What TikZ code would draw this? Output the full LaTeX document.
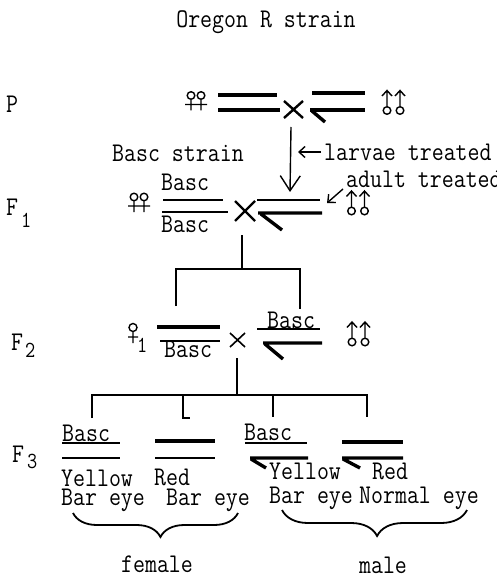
\documentclass[tikz,border=0pt]{standalone}
\usepackage{graphicx}
\usetikzlibrary{arrows.meta,decorations.pathreplacing}
\newcommand{\tw}[1]{\scalebox{0.86}[1]{#1}}
\begin{document}
\begin{tikzpicture}[x=1pt,y=-1pt,
  lbl/.style={font=\fontsize{27}{29}\selectfont\ttfamily, inner sep=0pt, anchor=base west},
  sublbl/.style={font=\fontsize{23}{25}\selectfont\ttfamily, inner sep=0pt, anchor=base west},
  chrthick/.style={line width=3.4pt},
  chrmed/.style={line width=2.2pt},
  chrthin/.style={line width=1.3pt},
  link/.style={line width=1.4pt},
  crosssty/.style={line width=2.4pt},
  sym/.style={line width=1.4pt},
  fempair/.pic={
    \draw[sym] (-5,0) circle (3.8) (5,0) circle (3.8)
      (-5,3.8) -- (-5,15) (5,3.8) -- (5,15) (-11,9) -- (11,9);},
  femone/.pic={
    \draw[sym] (0,0) circle (4) (0,4) -- (0,15.5) (-5,9.5) -- (5,9.5);},
  malepair/.pic={
    \draw[sym] (-6.5,0) circle (3.8) (6.5,0) circle (3.8)
      (-6.5,-3.8) -- (-6.5,-20) (6.5,-3.8) -- (6.5,-20)
      (-11.5,-14.5) -- (-6.5,-20) -- (-1.5,-14.5)
      (1.5,-14.5) -- (6.5,-20) -- (11.5,-14.5);}
]
\useasboundingbox (0,0) rectangle (496,577);

% ---------- texts ----------
\node[lbl,anchor=base] (oregon) at (266,28) {\tw{Oregon R strain}};
\node[lbl] (Plbl) at (6,113) {\tw{P}};
\node[lbl] (bascstrain) at (112,162) {\tw{Basc strain}};
\node[lbl] (larvae) at (324,161) {\tw{larvae treated}};
\node[lbl] (adult) at (346,188) {\tw{adult treated}};
\node[lbl] (Fone) at (6,215) {\tw{F}};
\node[sublbl] (Fonesub) at (21,227) {\tw{1}};
\node[lbl] (fonenum) at (161,190) {\tw{Basc}};
\node[lbl] (foneden) at (161,232) {\tw{Basc}};
\node[lbl] (Ftwo) at (11,350) {\tw{F}};
\node[sublbl] (Ftwosub) at (25,357) {\tw{2}};
\node[sublbl] (femsub) at (137,352) {\tw{1}};
\node[lbl] (ftwoden) at (164,357) {\tw{Basc}};
\node[lbl] (ftwonum) at (267,328) {\tw{Basc}};
\node[lbl] (Fthree) at (12,462) {\tw{F}};
\node[sublbl] (Fthreesub) at (27,468) {\tw{3}};
\node[lbl] (gaBasc) at (62,441) {\tw{Basc}};
\node[lbl] (gaYel) at (61,486) {\tw{Yellow}};
\node[lbl] (gaBar) at (61,505) {\tw{Bar eye}};
\node[lbl] (gbRed) at (154,485) {\tw{Red}};
\node[lbl] (gbBar) at (166,505) {\tw{Bar eye}};
\node[lbl] (gcBasc) at (244,440) {\tw{Basc}};
\node[lbl] (gcYel) at (269,479) {\tw{Yellow}};
\node[lbl] (gcBar) at (269,503) {\tw{Bar eye}};
\node[lbl] (gdRed) at (372,479) {\tw{Red}};
\node[lbl] (gdNorm) at (359,503) {\tw{Normal eye}};
\node[lbl,anchor=base] (female) at (157,572) {\tw{female}};
\node[lbl,anchor=base] (male) at (383,573) {\tw{male}};

% ---------- sex symbols ----------
\pic (pfem) at (196,95.5) {fempair};
\pic (ffem) at (139,197) {fempair};
\pic (tfem) at (133,327.5) {femone};
\pic (pmale) at (393.5,110.5) {malepair};
\pic (fmale) at (358,211) {malepair};
\pic (tmale) at (358.5,342) {malepair};

% ---------- P generation ----------
\draw[chrthick] (218,95) -- (277,95) (218,110) -- (280,110);
\draw[crosssty] (284,101) -- (303,118) (284,118) -- (303,101);
\draw[chrthick] (312,93) -- (365,93) (310,110) -- (365,110);
\draw[chrthick] (312,111) -- (325,122);

% ---------- arrows ----------
\coordinate (pstem) at (291,127);
\coordinate (fonetop) at (290,192);
\draw[link,-{Straight Barb[length=15pt,width=20pt]}] (pstem) -- (fonetop);
\coordinate (larvA) at (321,152);
\coordinate (larvB) at (298,152);
\draw[link,-{Straight Barb[length=6pt,width=11pt]}] (larvA) -- (larvB);
\coordinate (adA) at (343,189);
\coordinate (adB) at (327,203);
\draw[link,-{Straight Barb[length=6pt,width=11pt]}] (adA) -- (adB);

% ---------- F1 ----------
\draw[chrthin] (163,200) -- (223,200);
\draw[line width=1.6pt] (162,212) -- (228,212);
\draw[crosssty] (235,201) -- (255,221) (235,221) -- (255,201);
\draw[line width=2.8pt] (257,200) -- (320,200);
\draw[chrthick] (258,213) -- (322,213) (261,214) -- (282,230);

% ---------- F1 -> F2 bracket ----------
\coordinate (fonestem) at (242,235);
\coordinate (ftwobar) at (242,269);
\coordinate (ftwoL) at (176,306);
\coordinate (ftwoR) at (300,309);
\draw[link] (fonestem) -- (ftwobar);
\draw[link] (ftwoL) |- (ftwobar) -| (ftwoR);

% ---------- F2 ----------
\draw[chrthick] (157,327) -- (220,327);
\draw[chrthin] (160,341) -- (220,341);
\draw[line width=1.6pt] (230,333) -- (245,347) (230,347) -- (245,333);
\draw[chrthin] (257,329) -- (320,329);
\draw[chrthick] (263,343) -- (322,343) (265,344) -- (283,359);

% ---------- F2 -> F3 bracket ----------
\coordinate (ftwostem) at (237,358);
\coordinate (fthreebar) at (237,395);
\coordinate (legA) at (92,418);
\coordinate (legB) at (183,418);
\coordinate (legC) at (273,417);
\coordinate (legD) at (367,417);
\draw[link] (ftwostem) -- (fthreebar);
\draw[link] (legA) |- (fthreebar) -| (legD);
\draw[link] (legB |- fthreebar) -- (legB) -- ++(7,0);
\draw[link] (legC |- fthreebar) -- (legC);

% ---------- F3 chromosomes ----------
\draw[chrthin] (62,443) -- (120,443);
\draw[line width=1.6pt] (62,458) -- (120,458);
\draw[chrthick] (155,441) -- (215,441);
\draw[chrmed] (155,458) -- (215,458);
\draw[chrthin] (245,443) -- (307,443);
\draw[chrthick] (250,458) -- (308,458) (251,459) -- (266,468);
\draw[chrthick] (342,442) -- (403,442);
\draw[chrthick] (342,458) -- (403,458) (343,459) -- (360,468);

% ---------- braces ----------
\draw[line width=1.8pt, decorate, decoration={brace, amplitude=24pt, aspect=0.47}] (238,513) -- (73,513);
\draw[line width=1.8pt, decorate, decoration={brace, amplitude=26pt, aspect=0.486}] (467,510) -- (282,510);
\end{tikzpicture}
\end{document}
